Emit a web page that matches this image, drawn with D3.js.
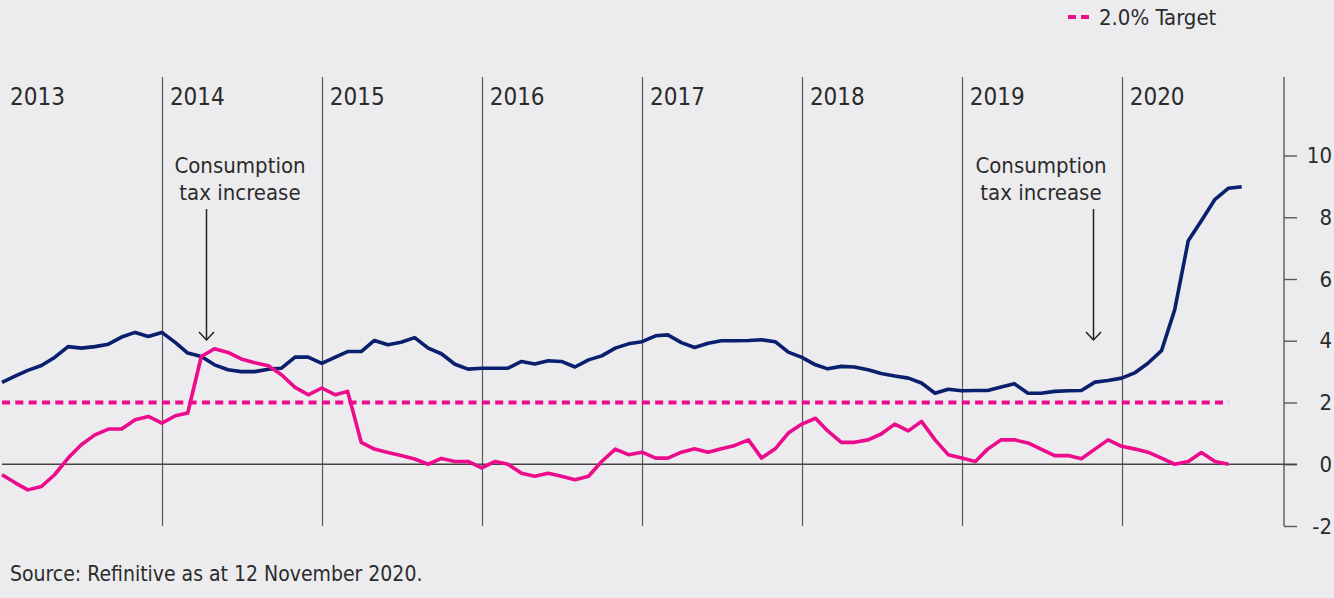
<!DOCTYPE html>
<html>
<head>
<meta charset="utf-8">
<title>Japan money supply and inflation</title>
<style>
  body { margin: 0; background: #ececee; }
  svg { display: block; }
  text {
    font-family: "DejaVu Sans Condensed", "DejaVu Sans", sans-serif;
    font-stretch: condensed;
    fill: #2b2b2b;
  }
  .grid line { stroke: #5a5a5a; stroke-width: 1.2; }
  .axis path, .axis line { stroke: #5a5a5a; stroke-width: 1.4; }
</style>
</head>
<body>
<script src="https://cdn.jsdelivr.net/npm/d3@7"></script>
<script>

var width = 1334,
    height = 598;

// monthly observations from Jan 2013
var startMonth = new Date(2013, 0, 1);

var moneyGrowth = [
  2.65, 2.86, 3.04, 3.2, 3.46, 3.81, 3.76, 3.81, 3.89, 4.12, 4.27, 4.14,
  4.27, 3.94, 3.6, 3.49, 3.22, 3.06, 3.0, 3.0, 3.08, 3.11, 3.47, 3.47,
  3.27, 3.47, 3.65, 3.65, 4.01, 3.87, 3.95, 4.1, 3.76, 3.58, 3.24, 3.08,
  3.11, 3.11, 3.11, 3.33, 3.25, 3.35, 3.33, 3.15, 3.38, 3.51, 3.76, 3.9,
  3.97, 4.16, 4.19, 3.94, 3.78, 3.92, 4.0, 4.0, 4.01, 4.03, 3.97, 3.63,
  3.46, 3.22, 3.09, 3.17, 3.15, 3.06, 2.94, 2.86, 2.79, 2.63, 2.3, 2.43,
  2.38, 2.39, 2.39, 2.5, 2.61, 2.3, 2.3, 2.36, 2.38, 2.39, 2.66, 2.71,
  2.79, 2.97, 3.27, 3.68, 5.0, 7.24, 7.89, 8.58, 8.94, 8.99
];

var cpiInflation = [
  -0.34, -0.61, -0.83, -0.72, -0.34, 0.2, 0.63, 0.95, 1.14, 1.14, 1.44, 1.55,
  1.33, 1.57, 1.66, 3.49, 3.74, 3.62, 3.41, 3.29, 3.19, 2.9, 2.49, 2.25,
  2.47, 2.25, 2.36, 0.71, 0.49, 0.38, 0.28, 0.17, 0.0, 0.19, 0.09, 0.09,
  -0.12, 0.09, 0.0, -0.29, -0.39, -0.29, -0.39, -0.5, -0.39, 0.09, 0.49, 0.31,
  0.39, 0.2, 0.2, 0.39, 0.5, 0.39, 0.5, 0.61, 0.79, 0.2, 0.5, 1.01,
  1.3, 1.49, 1.08, 0.71, 0.71, 0.79, 0.98, 1.3, 1.08, 1.39, 0.79, 0.31,
  0.2, 0.09, 0.49, 0.79, 0.79, 0.69, 0.49, 0.28, 0.28, 0.18, 0.49, 0.79,
  0.58, 0.49, 0.39, 0.2, 0.0, 0.09, 0.38, 0.09, 0.0
];

var target = 2.0;
var years = [2013, 2014, 2015, 2016, 2017, 2018, 2019, 2020];
var yTicks = [-2, 0, 2, 4, 6, 8, 10];

var annotations = [
  { date: new Date(2014, 3, 12), lines: ["Consumption", "tax increase"], labelX: 240 },
  { date: new Date(2019, 9, 28), lines: ["Consumption", "tax increase"], labelX: 1041 }
];

var sourceNote = "Source: Refinitive as at 12 November 2020.";

var monthDate = function(i) { return d3.timeMonth.offset(startMonth, i); };

var x = d3.scaleTime()
    .domain([new Date(2013, 0, 1), new Date(2021, 0, 1)])
    .range([2, 1282]);

var y = d3.scaleLinear()
    .domain([-2, 10])
    .range([526, 155.5]);

var plotTop = 77,
    axisX = 1284;

var svg = d3.select("body").append("svg")
    .attr("width", width)
    .attr("height", height);

svg.append("rect")
    .attr("width", width)
    .attr("height", height)
    .attr("fill", "#ececee");

// year dividers and labels
var grid = svg.append("g").attr("class", "grid");
grid.selectAll("line")
    .data(years.slice(1))
    .enter().append("line")
    .attr("x1", function(d) { return Math.round(x(new Date(d, 0, 1))) + 0.5; })
    .attr("x2", function(d) { return Math.round(x(new Date(d, 0, 1))) + 0.5; })
    .attr("y1", plotTop)
    .attr("y2", y(-2));

svg.append("g").selectAll("text")
    .data(years)
    .enter().append("text")
    .attr("x", function(d) { return x(new Date(d, 0, 1)) + 8; })
    .attr("y", 105)
    .style("font-size", "24px")
    .text(function(d) { return d; });

// right axis
var yAxis = d3.axisRight(y)
    .tickValues(yTicks)
    .tickSize(13)
    .tickPadding(8)
    .tickFormat(function(d) { return String(d); });

var ax = svg.append("g")
    .attr("class", "axis")
    .attr("transform", "translate(" + axisX + ",0)")
    .call(yAxis);
ax.select(".domain").remove();
ax.append("line")
    .attr("x1", 0).attr("x2", 0)
    .attr("y1", plotTop).attr("y2", y(-2));
ax.selectAll(".tick text")
    .attr("x", 48)
    .attr("text-anchor", "end")
    .style("font-size", "22px")
    .attr("fill", "#2b2b2b");

// zero line
svg.append("line")
    .attr("x1", x(startMonth))
    .attr("x2", axisX + 13)
    .attr("y1", y(0))
    .attr("y2", y(0))
    .attr("stroke", "#444")
    .attr("stroke-width", 1.6);

// target line
svg.append("line")
    .attr("x1", x(startMonth))
    .attr("x2", x(monthDate(cpiInflation.length - 1)))
    .attr("y1", y(target))
    .attr("y2", y(target))
    .attr("stroke", "#ec0b8c")
    .attr("stroke-width", 4)
    .attr("stroke-dasharray", "8,5.33");

var line = d3.line()
    .x(function(d, i) { return x(monthDate(i)); })
    .y(function(d) { return y(d); });

svg.append("path")
    .datum(moneyGrowth)
    .attr("fill", "none")
    .attr("stroke", "#0a1f6d")
    .attr("stroke-width", 3.6)
    .attr("stroke-linejoin", "round")
    .attr("d", line);

svg.append("path")
    .datum(cpiInflation)
    .attr("fill", "none")
    .attr("stroke", "#ec0b8c")
    .attr("stroke-width", 3.6)
    .attr("stroke-linejoin", "round")
    .attr("d", line);

// annotations
annotations.forEach(function(a) {
  var g = svg.append("g");
  var ax0 = Math.round(x(a.date)) + 0.5;
  g.selectAll("text")
      .data(a.lines)
      .enter().append("text")
      .attr("x", a.labelX)
      .attr("y", function(d, i) { return 173 + i * 27; })
      .attr("text-anchor", "middle")
      .style("font-size", "22px")
      .text(function(d) { return d; });
  g.append("line")
      .attr("x1", ax0).attr("x2", ax0)
      .attr("y1", 209).attr("y2", 340)
      .attr("stroke", "#222")
      .attr("stroke-width", 1.5);
  g.append("path")
      .attr("d", "M" + (ax0 - 7.5) + "," + 332 + "L" + ax0 + "," + 340 + "L" + (ax0 + 7.5) + "," + 332)
      .attr("fill", "none")
      .attr("stroke", "#222")
      .attr("stroke-width", 1.5);
});

// legend
var legend = svg.append("g").attr("transform", "translate(1068,17)");
legend.append("line")
    .attr("x1", 0).attr("x2", 24)
    .attr("stroke", "#ec0b8c")
    .attr("stroke-width", 4)
    .attr("stroke-dasharray", "8,5");
legend.append("text")
    .attr("x", 31)
    .attr("y", 8)
    .style("font-size", "22px")
    .text("2.0% Target");

svg.append("text")
    .attr("x", 10)
    .attr("y", 581)
    .style("font-size", "21px")
    .text(sourceNote);

</script>
</body>
</html>
